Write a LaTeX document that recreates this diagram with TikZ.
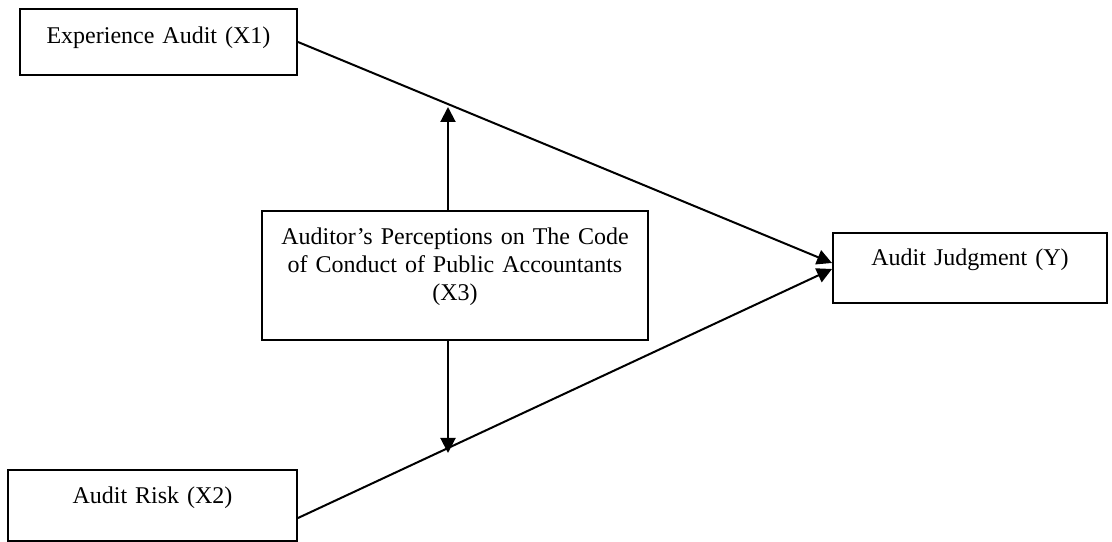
\documentclass[tikz,border=0pt]{standalone}
\usepackage{fontspec}
\setmainfont{Liberation Serif}
\usetikzlibrary{arrows.meta}
\tikzset{
>={Triangle[length=7.5bp,width=7.5bp]},
  varbox/.style={
    rectangle,
    draw=black, line width=1bp,
    inner xsep=0pt, inner ysep=0pt,
    anchor=north west,
    align=center,
    font=\fontsize{12bp}{14bp}\selectfont},
  line/.style={draw, line width=1bp, ->},
}
\begin{document}
\begin{tikzpicture}[x=0.5bp,y=-0.5bp]
  \useasboundingbox (0,0) rectangle (1112,542);
     \node[varbox, text width=138.5bp, text height=17.5bp, text depth=15.5bp] (exper) at (19,8) {Experience Audit (X1)};
     \node[varbox, text width=144.5bp, text height=17bp, text depth=18.5bp] (risk) at (7,469) {Audit Risk (X2)};
     \node[varbox, text width=193bp, text height=17bp, text depth=47.5bp] (percep) at (261,210) {Auditor’s Perceptions on The Code\\of Conduct of Public Accountants\\(X3)};
     \node[varbox, text width=137bp, text height=16.5bp, text depth=18.5bp] (judg) at (832,232) {Audit Judgment (Y)};
     \coordinate (m1) at (448,107);
     \coordinate (m2) at (448,453);
     \draw[line] (exper.east) -- ([yshift=2.5bp]judg.west);
     \draw[line] ([yshift=-6.25bp]risk.east) -- ([yshift=-0.5bp]judg.west);
     \draw[line] (percep.north -| m1) -- (m1);
     \draw[line] (percep.south -| m2) -- (m2);
  \end{tikzpicture}
\end{document}
